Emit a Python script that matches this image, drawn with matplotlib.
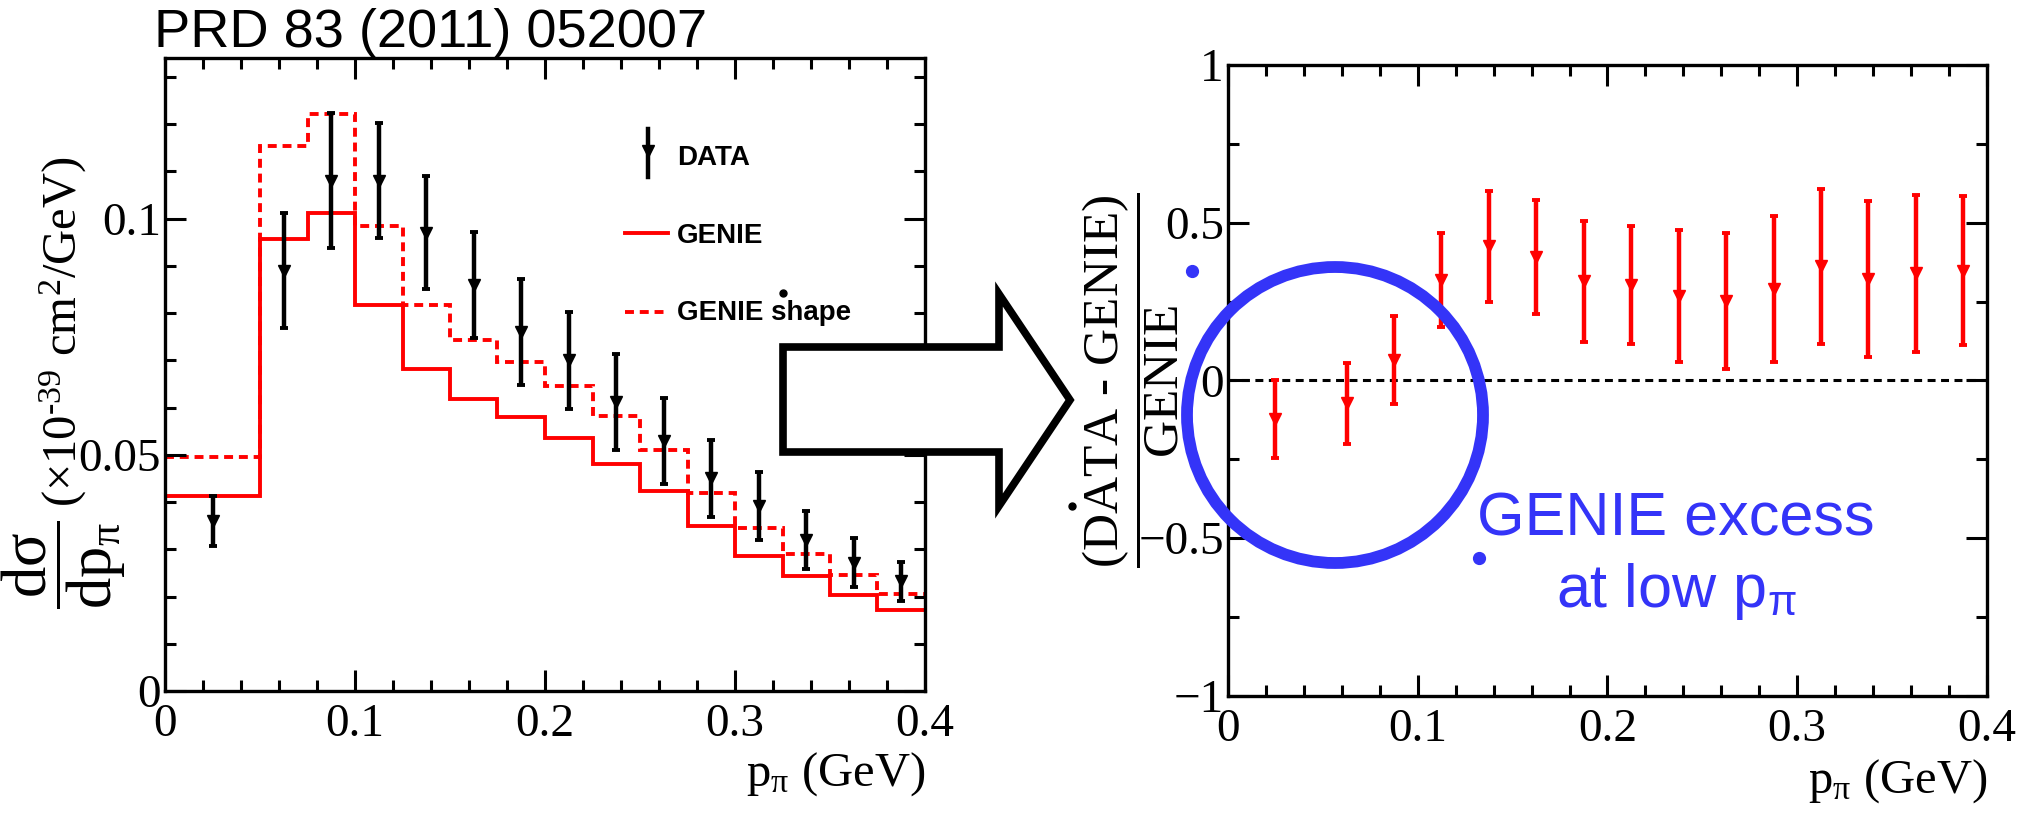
import numpy as np
import matplotlib
matplotlib.use("Agg")
import matplotlib.pyplot as plt
from matplotlib.patches import Polygon, Ellipse
from matplotlib.lines import Line2D
from matplotlib.ticker import MultipleLocator, FuncFormatter

# ---------------- data ----------------
bin_edges = [0.0, 0.05, 0.075, 0.1, 0.125, 0.15, 0.175, 0.2, 0.225, 0.25,
             0.275, 0.3, 0.325, 0.35, 0.375, 0.4]
genie = [0.0412, 0.0957, 0.1012, 0.0817, 0.0681, 0.0619, 0.0580, 0.0536,
         0.0481, 0.0424, 0.0349, 0.0285, 0.0243, 0.0204, 0.0171]
genie_shape = [0.0495, 0.1154, 0.1221, 0.0985, 0.0818, 0.0744, 0.0696, 0.0645,
               0.0582, 0.0510, 0.0420, 0.0344, 0.0291, 0.0245, 0.0206]
data_x = [0.025, 0.0625, 0.0875, 0.1125, 0.1375, 0.1625, 0.1875, 0.2125,
          0.2375, 0.2625, 0.2875, 0.3125, 0.3375, 0.3625, 0.3875]
data_y = [0.0360, 0.0890, 0.1080, 0.1080, 0.0970, 0.0860, 0.0760, 0.0700,
          0.0612, 0.0530, 0.0450, 0.0392, 0.0320, 0.0272, 0.0232]
data_err = [0.0053, 0.0122, 0.0143, 0.0122, 0.0120, 0.0112, 0.0112, 0.0102,
            0.0101, 0.0091, 0.0081, 0.0072, 0.0062, 0.0051, 0.0041]
ratio_y = [-0.122, -0.072, 0.066, 0.318, 0.426, 0.392, 0.314, 0.302,
           0.268, 0.252, 0.290, 0.362, 0.322, 0.340, 0.348]
ratio_err = [0.125, 0.128, 0.139, 0.148, 0.176, 0.181, 0.193, 0.187,
             0.209, 0.216, 0.230, 0.245, 0.248, 0.249, 0.236]

x_ticks = [0, 0.1, 0.2, 0.3, 0.4]
left_y_ticks = [0, 0.05, 0.1]
right_y_ticks = [-1, -0.5, 0, 0.5, 1]

title_text = "PRD 83 (2011) 052007"
legend_labels = ["DATA", "GENIE", "GENIE shape"]
note_lines = ["GENIE excess", r"at low p$_{\mathsf{\pi}}$"]

# ---------------- style ----------------
plt.rcParams['font.family'] = ['Liberation Serif', 'DejaVu Serif']
plt.rcParams['mathtext.fontset'] = 'custom'
plt.rcParams['mathtext.rm'] = 'Liberation Serif'
plt.rcParams['mathtext.it'] = 'Liberation Serif:italic'
plt.rcParams['mathtext.bf'] = 'Liberation Serif:bold'
plt.rcParams['mathtext.sf'] = 'Liberation Sans'

W, H = 2031, 813
fig = plt.figure(figsize=(W / 100, H / 100), dpi=100)


def P(x, y):
    return (x / W, 1 - y / H)


RED = '#ff0000'
BLUE = '#3434f8'

ax1 = fig.add_axes([165 / W, 1 - 691 / H, (925 - 165) / W, (691 - 58) / H])
ax2 = fig.add_axes([1228 / W, 1 - 696 / H, (1987 - 1228) / W, (696 - 65) / H])

fmt = FuncFormatter(lambda v, p: ('%g' % v).replace('-', '\u2212'))

for ax in (ax1, ax2):
    ax.set_xlim(0, 0.4)
    ax.xaxis.set_major_locator(MultipleLocator(0.1))
    ax.xaxis.set_minor_locator(MultipleLocator(0.02))
    ax.set_xticks(x_ticks)
    ax.xaxis.set_major_formatter(fmt)
    ax.yaxis.set_major_formatter(fmt)
    ax.tick_params(which='both', direction='in', top=True, right=True,
                   width=2.2, labelsize=34)
    ax.tick_params(which='major', length=15)
    ax.tick_params(which='minor', length=8)
    ax.tick_params(axis='x', pad=9)
    ax.tick_params(axis='y', pad=3)
    for s in ax.spines.values():
        s.set_linewidth(2.4)

# left panel
ax1.set_ylim(0, 0.134)
ax1.set_yticks(left_y_ticks)
ax1.yaxis.set_minor_locator(MultipleLocator(0.01))
ax1.stairs(genie, bin_edges, baseline=None, color=RED, lw=2.8)
ax1.stairs(genie_shape, bin_edges, baseline=None, color=RED, lw=2.8,
           linestyle=(0, (2.3, 1.5)))
ax1.errorbar(data_x, data_y, yerr=data_err, fmt='v', color='k', ms=8.5,
             lw=3.2, capsize=2.8, capthick=2.8, zorder=4)

# right panel
ax2.set_ylim(-1, 1)
ax2.set_yticks(right_y_ticks)
ax2.yaxis.set_minor_locator(MultipleLocator(0.25))
ax2.axhline(0, color='k', lw=2.2, linestyle=(0, (2.6, 1.8)))
ax2.errorbar(data_x, ratio_y, yerr=ratio_err, fmt='v', color=RED, ms=8.5,
             lw=3.2, capsize=2.8, capthick=2.8, zorder=4)

# legend (manual, ROOT-like)
fig.add_artist(Line2D([648 / W, 648 / W], [P(0, 129)[1], P(0, 177)[1]],
                      color='k', lw=3.2, transform=fig.transFigure))
fig.add_artist(Line2D([648 / W], [P(0, 151)[1]], marker='v', ms=8.5, color='k',
                      lw=0, transform=fig.transFigure))
fig.add_artist(Line2D([625 / W, 668 / W], [P(0, 233)[1]] * 2, color=RED, lw=2.8,
                      transform=fig.transFigure))
fig.add_artist(Line2D([625 / W, 668 / W], [P(0, 312)[1]] * 2, color=RED, lw=2.8,
                      linestyle=(0, (2.3, 1.5)), transform=fig.transFigure))
for lab, yb in zip(legend_labels, [165, 243, 320]):
    fig.text(*P(677, yb), lab, family='Liberation Sans', fontweight='bold',
             fontsize=20, va='baseline', ha='left')

# title
fig.text(*P(154, 47), title_text, family='Liberation Sans', fontsize=39,
         va='baseline', ha='left')

# axis labels
fig.text(*P(925, 786), r'$\mathrm{p}_{\mathrm{\pi}}$ (GeV)', ha='right',
         va='baseline', fontsize=35)
fig.text(*P(1987, 793), r'$\mathrm{p}_{\mathrm{\pi}}$ (GeV)', ha='right',
         va='baseline', fontsize=35)
fig.text(*P(63, 332), r'(×10$^{\text{-39}}$ cm$^{\mathrm{2}}$/GeV)', rotation=90,
         ha='center', va='center', fontsize=35)
fig.text(*P(64, 565), r'$\dfrac{\mathrm{d\sigma}}{\mathrm{dp}_{\mathrm{\pi}}}$',
         rotation=90, ha='center', va='center', fontsize=45)
fig.text(*P(1131, 380), r'$\dfrac{\text{(DATA - GENIE)}}{\text{GENIE}}$',
         rotation=90, ha='center', va='center', fontsize=37)

# big arrow
arrow_px = [(783, 347), (999, 347), (999, 294), (1070, 400), (999, 506),
            (999, 452), (783, 452)]
fig.add_artist(Polygon([P(x, y) for x, y in arrow_px], closed=True,
                       facecolor='white', edgecolor='black', lw=5.5,
                       transform=fig.transFigure, zorder=5))

# blue circle + note
fig.add_artist(Ellipse(P(1335, 415), 296 / W, 296 / H, fill=False,
                       edgecolor=BLUE, lw=8.5, transform=fig.transFigure,
                       zorder=6))
fig.text(*P(1676, 535), note_lines[0], family='Liberation Sans', fontsize=44,
         color=BLUE, ha='center', va='baseline')
fig.text(*P(1676, 607), note_lines[1], family='Liberation Sans', fontsize=44,
         color=BLUE, ha='center', va='baseline')

# small stray dots present in the reference
for (x, y) in [(1192, 271), (1479, 558)]:
    fig.add_artist(Line2D([P(x, y)[0]], [P(x, y)[1]], marker='o', ms=8.5,
                          color=BLUE, lw=0, transform=fig.transFigure, zorder=7))
for (x, y) in [(783, 293), (1072, 506)]:
    fig.add_artist(Line2D([P(x, y)[0]], [P(x, y)[1]], marker='o', ms=5,
                          color='k', lw=0, transform=fig.transFigure, zorder=7))

fig.savefig('out.png', dpi=100)
